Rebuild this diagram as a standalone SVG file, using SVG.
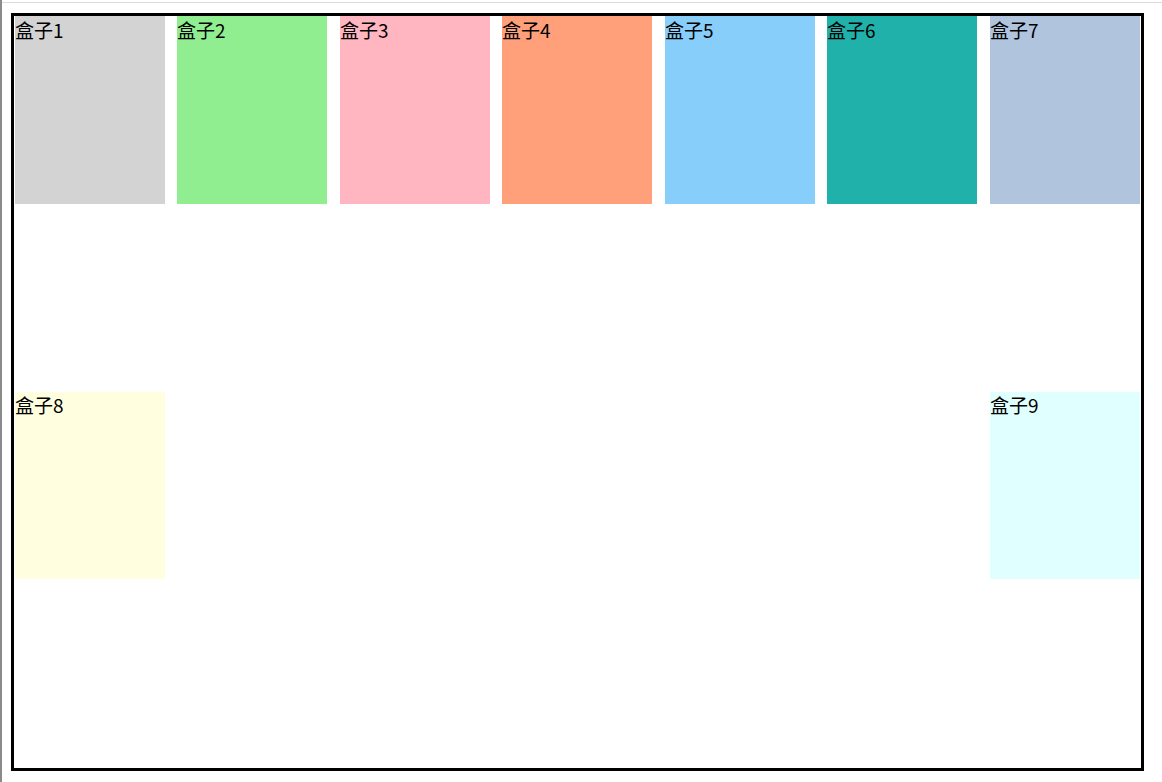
<svg xmlns="http://www.w3.org/2000/svg" width="1162" height="782" viewBox="0 0 1162 782">
<style>
.lbl{font-family:"Noto Sans CJK SC","Liberation Sans",sans-serif;font-size:19px;fill:#000}
</style>
<rect x="0" y="0" width="1162" height="782" fill="#fff"/>
<rect x="0" y="2" width="1162" height="1" fill="#dcdcdc"/>
<rect x="0" y="0" width="2" height="782" fill="#8a8a8a"/>
<rect id="container" x="12.5" y="14.5" width="1130" height="755" fill="none" stroke="#000" stroke-width="3"/>
<g id="box1"><rect x="15" y="16" width="150" height="188" fill="#d3d3d3"/><text class="lbl" x="15" y="37.5">盒子1</text></g>
<g id="box2"><rect x="177" y="16" width="150" height="188" fill="#90ee90"/><text class="lbl" x="177" y="37.5">盒子2</text></g>
<g id="box3"><rect x="340" y="16" width="150" height="188" fill="#ffb6c1"/><text class="lbl" x="340" y="37.5">盒子3</text></g>
<g id="box4"><rect x="502" y="16" width="150" height="188" fill="#ffa07a"/><text class="lbl" x="502" y="37.5">盒子4</text></g>
<g id="box5"><rect x="665" y="16" width="150" height="188" fill="#87cefa"/><text class="lbl" x="665" y="37.5">盒子5</text></g>
<g id="box6"><rect x="827" y="16" width="150" height="188" fill="#20b2aa"/><text class="lbl" x="827" y="37.5">盒子6</text></g>
<g id="box7"><rect x="990" y="16" width="150" height="188" fill="#b0c4de"/><text class="lbl" x="990" y="37.5">盒子7</text></g>
<g id="box8"><rect x="15" y="392" width="150" height="187" fill="#ffffe0"/><text class="lbl" x="15" y="412.5">盒子8</text></g>
<g id="box9"><rect x="990" y="392" width="150" height="187" fill="#e0ffff"/><text class="lbl" x="990" y="412.5">盒子9</text></g>
<g id="connectors"></g>
</svg>
